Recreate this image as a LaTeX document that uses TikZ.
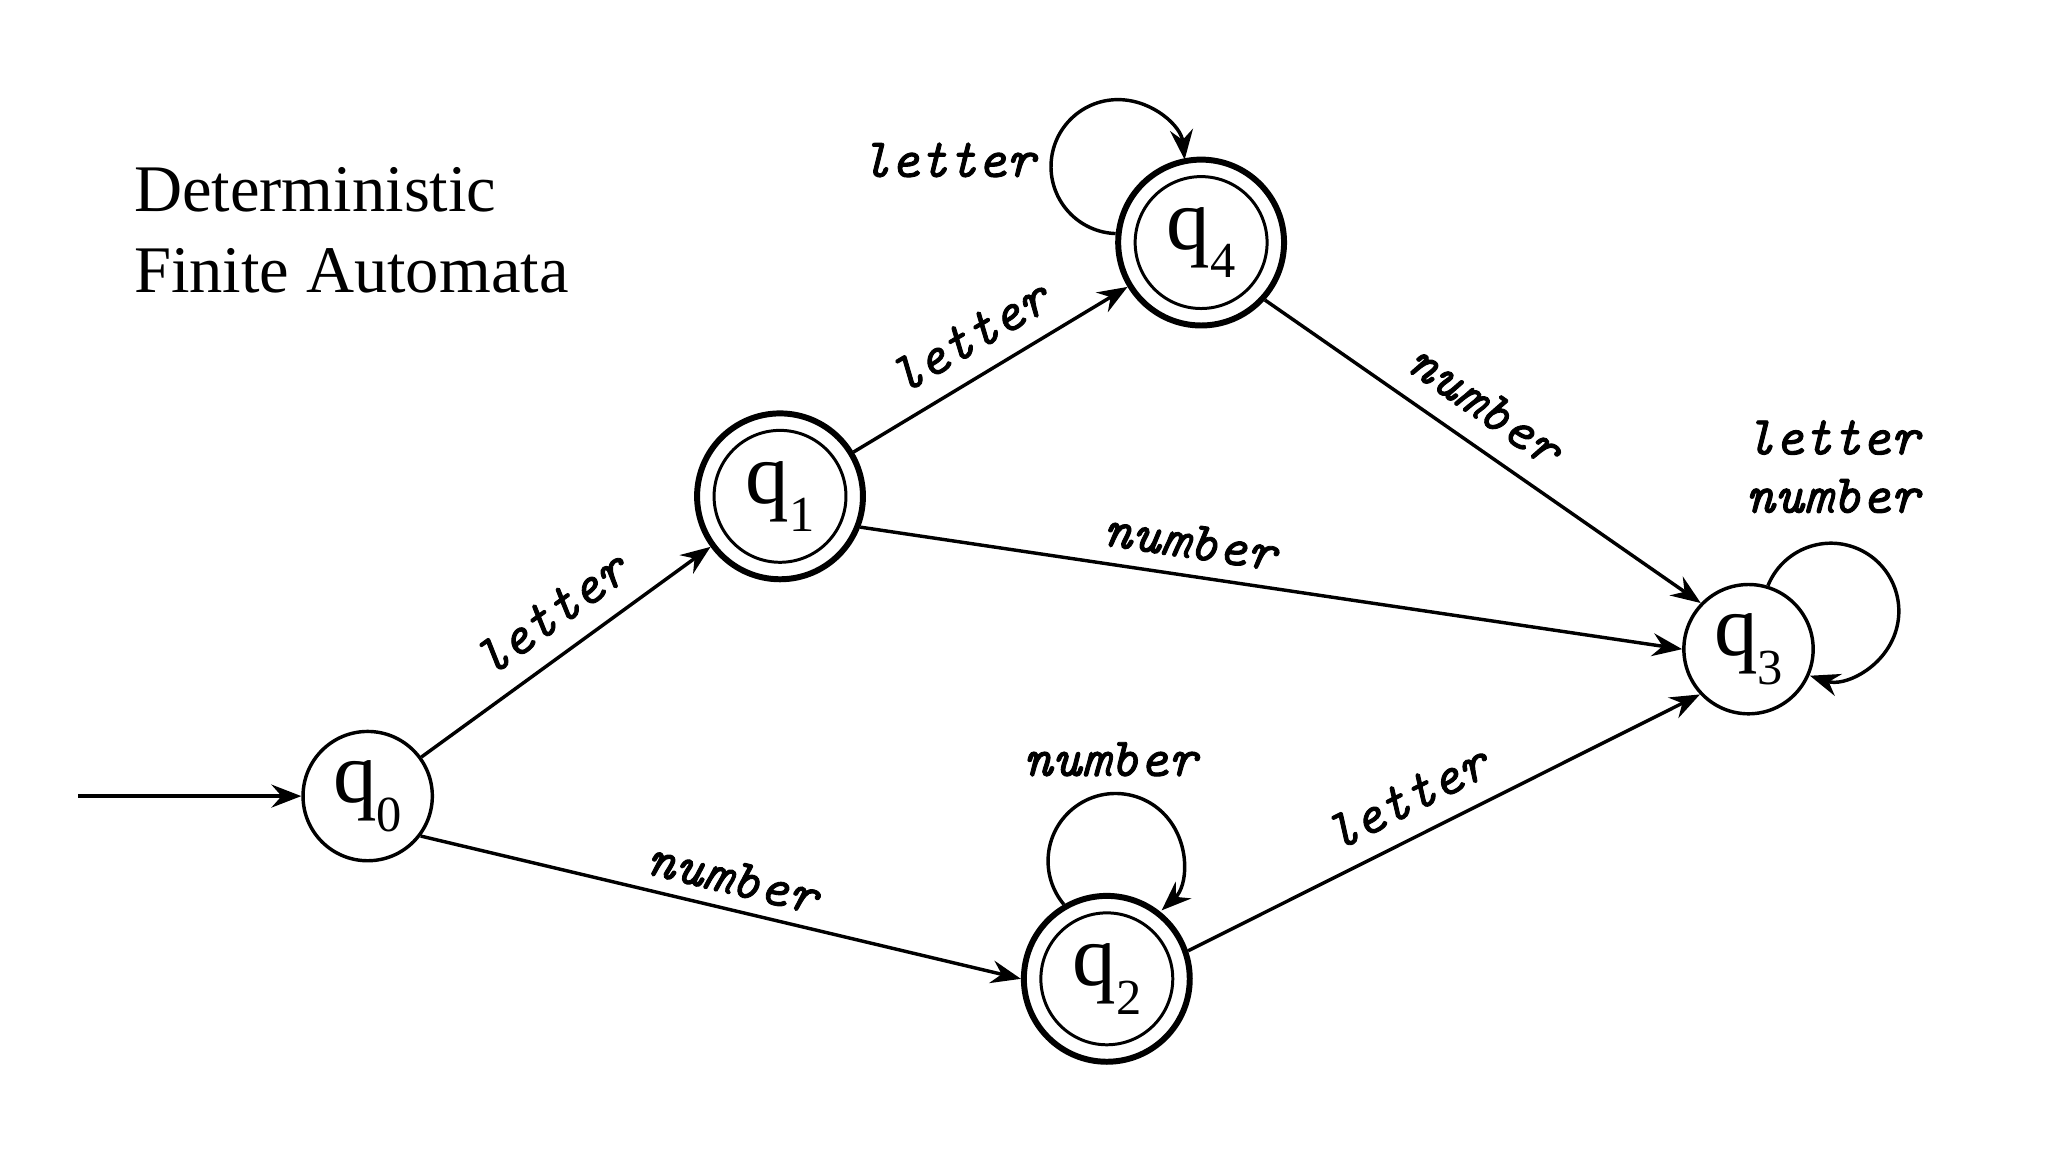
\documentclass[tikz,border=0pt]{standalone}
\usepackage{fontspec}
\setmainfont{Liberation Serif}
\newfontfamily\lblfont{lmmono10-italic}[Extension=.otf, FakeBold=1.6]
\usetikzlibrary{arrows.meta}
\newcommand{\stlab}[1]{{\fontsize{19}{19}\selectfont q}\raisebox{-6.2pt}{\fontsize{11}{11}\selectfont #1}}
\begin{document}
\begin{tikzpicture}[
  >={Stealth[length=6.5pt,width=5pt,inset=2.2pt]},
  state/.style={circle, draw, line width=0.75pt, minimum size=0.99cm, inner sep=0pt},
  accept/.style={state, line width=1.3pt, minimum size=1.27cm},
  innerring/.style={line width=0.65pt},
  edge/.style={->, line width=0.75pt},
  lbl/.style={font=\fontsize{12}{12.7}\selectfont\lblfont, inner sep=0pt},
  title/.style={font=\fontsize{14.5}{17.8}\selectfont, align=left, inner sep=0pt}
]
\useasboundingbox (0,0) rectangle (15.68,8.82);
\node[title, anchor=north west] (title) at (1.02,7.547) {Deterministic\\Finite Automata};

\node[state] (q0) at (2.815,2.725) {\stlab{0}};
\node[accept] (q1) at (5.972,5.02) {\stlab{1}};
\node[accept] (q4) at (9.196,6.963) {\stlab{4}};
\node[accept] (q2) at (8.474,1.326) {\stlab{2}};
\node[state] (q3) at (13.387,3.85) {\stlab{3}};
\foreach \n in {q1,q4,q2} \draw[innerring] (\n.center) circle[radius=0.505];

\coordinate (start) at (0.60,2.725);
\draw[edge] (start) -- (q0);
\draw[edge] (q0) -- (q1);
\draw[edge] (q0.-37) -- (q2.180);
\draw[edge] (q1) -- (q4);
\draw[edge] (q1.-21) -- (q3.180);
\draw[edge] (q4.-42) -- (q3.136);
\draw[edge] (q2.19) -- (q3.223);

\draw[edge] (q4.174) arc[start angle=268, end angle=6, radius=0.513];
\draw[edge] (q2.120) arc[start angle=220, end angle=-47, radius=0.517];
\draw[edge] (q3.73) arc[start angle=158, end angle=-108, radius=0.52];

\node[lbl, rotate=35.7] (l01) at (4.216,4.12) {letter};
\node[lbl, rotate=-13.6] (l02) at (5.61,2.10) {number};
\node[lbl, rotate=30.3] (l14) at (7.42,6.24) {letter};
\node[lbl, rotate=-8.5] (l13) at (9.112,4.674) {number};
\node[lbl, rotate=-34.8] (l43) at (11.37,5.72) {number};
\node[lbl, rotate=26.6] (l23) at (10.77,2.71) {letter};
\node[lbl] (l44) at (7.26,7.595) {letter};
\node[lbl] (l22) at (8.50,3.007) {number};
\node[lbl, align=center] (l33) at (14.03,5.247) {letter\\number};
\end{tikzpicture}
\end{document}
